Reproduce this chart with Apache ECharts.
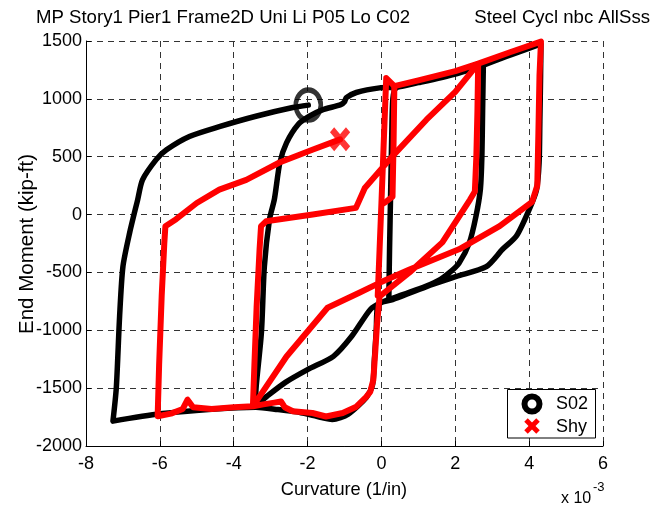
<!DOCTYPE html>
<html>
<head>
<meta charset="utf-8">
<script src="https://cdn.jsdelivr.net/npm/echarts@6/dist/echarts.min.js"></script>
<style>
  html, body { margin: 0; padding: 0; background: #fff; }
  #chart { width: 660px; height: 510px; }
</style>
</head>
<body>
<div id="chart"></div>
<script>
// Curvature in units of 1e-3 (1/in), end moment in kip-ft.
const xTicks = [-8, -6, -4, -2, 0, 2, 4, 6];
const yTicks = [-2000, -1500, -1000, -500, 0, 500, 1000, 1500];

// S02 material response (black)
const s02Path = [
  [0.2, -740], [0.22, -300], [0.25, 200], [0.28, 700], [0.31, 1000], [0.4, 1095], [1.0, 1140], [2.0, 1215], [2.76, 1290],
  [2.74, 900], [2.72, 500], [2.68, 220], [2.56, -15], [2.38, -245], [2.1, -420], [1.85, -500], [1.6, -560], [1.2, -620],
  [0.6, -690], [0.0, -760], [-0.3, -820], [-0.8, -1050], [-1.3, -1225], [-2.0, -1340], [-2.6, -1450], [-3.1, -1570], [-3.42, -1655],
  [-3.39, -1480], [-3.25, -1020], [-3.17, -450], [-3.03, -40], [-2.9, 130], [-2.75, 450], [-2.57, 620], [-2.25, 780], [-1.95, 850],
  [-1.6, 905], [-1.1, 950], [-1.0, 975], [-0.95, 1010], [-0.68, 1055], [-0.05, 1095], [0.4, 1100], [1.0, 1140], [2.0, 1215],
  [2.76, 1292], [3.5, 1380], [4.32, 1475],
  [4.31, 1200], [4.29, 800], [4.27, 450], [4.2, 216], [4.0, 43], [3.65, -188], [3.28, -300], [2.84, -450], [2.03, -535],
  [1.22, -622], [0.3, -735], [-0.1, -780], [-0.14, -1000], [-0.19, -1250], [-0.24, -1470], [-0.41, -1580], [-0.9, -1725],
  [-1.33, -1770], [-1.8, -1740], [-2.3, -1705], [-2.8, -1685], [-3.4, -1665], [-4.5, -1680], [-6.0, -1722], [-7.27, -1785],
  [-7.18, -1500], [-7.09, -880], [-7.0, -450], [-6.82, -160], [-6.6, 130], [-6.47, 300], [-6.1, 475], [-5.82, 560],
  [-5.2, 675], [-4.39, 760], [-3.4, 850], [-2.4, 925], [-1.98, 946]
];
const s02Marker = [[-1.98, 946]];

// Shy material response (red)
const shyPath = [
  [-0.1, -700], [-0.05, -300], [0.0, 100], [0.06, 600], [0.13, 1180], [0.35, 1110], [1.0, 1160], [2.0, 1240], [2.62, 1305],
  [2.6, 900], [2.57, 500], [2.53, 200], [2.4, 130], [1.65, -240], [0.76, -500], [-0.05, -708], [-0.12, -950], [-0.17, -1200],
  [-0.22, -1430], [-0.3, -1530], [-0.41, -1575], [-0.68, -1660], [-1.05, -1715], [-1.5, -1745], [-1.87, -1715], [-2.4, -1700],
  [-2.62, -1665], [-2.72, -1615], [-2.9, -1625], [-3.2, -1640], [-3.48, -1657],
  [-3.44, -1300], [-3.38, -800], [-3.3, -300], [-3.26, -100], [-3.12, -58], [-1.86, 0], [-0.69, 58], [-0.45, 230], [0.3, 505],
  [1.22, 820], [2.0, 1060], [2.62, 1305], [3.5, 1405], [4.32, 1495],
  [4.28, 1200], [4.25, 700], [4.22, 250], [4.08, 110], [3.2, -100], [2.1, -300], [0.76, -475], [-0.05, -590], [-0.6, -675],
  [-1.46, -805], [-2.57, -1227], [-3.48, -1657],
  [-4.0, -1665], [-4.6, -1680], [-5.1, -1665], [-5.25, -1600], [-5.38, -1680], [-5.7, -1720], [-6.06, -1743],
  [-6.02, -1300], [-5.95, -700], [-5.88, -250], [-5.85, -100], [-5.56, -40], [-5.0, 100], [-4.39, 215], [-3.66, 300],
  [-2.76, 450], [-1.87, 560], [-1.12, 650]
];
const shyNearZero = [[0.08, 100], [0.3, 155], [0.33, 640], [0.35, 1110]];
const shyMarker = [[-1.12, 650]];

const seriesNames = ['S02', 'Shy'];
const titleLeft = 'MP Story1 Pier1 Frame2D Uni Li P05 Lo C02';
const titleRight = 'Steel Cycl nbc AllSss';
const xLabel = 'Curvature (1/in)';
const yLabel = 'End Moment (kip-ft)';

const FONT = '"Liberation Sans", Arial, Helvetica, sans-serif';
const chart = echarts.init(document.getElementById('chart'), null, { renderer: 'canvas' });

const gridLine = { show: true, lineStyle: { type: [6, 5], color: '#333', width: 1 } };
const plainNumber = v => String(v);

chart.setOption({
  animation: false,
  backgroundColor: '#fff',
  grid: { left: 86, right: 57, top: 41, bottom: 64, containLabel: false },
  xAxis: {
    type: 'value', min: xTicks[0], max: xTicks[xTicks.length - 1], interval: 2,
    axisLine: { show: true, onZero: false, lineStyle: { color: '#000', width: 1 } },
    axisTick: { show: true, inside: true, length: 5, lineStyle: { color: '#000' } },
    axisLabel: { color: '#000', fontSize: 18, fontFamily: FONT, margin: 9, formatter: plainNumber, showMinLabel: true, showMaxLabel: true },
    splitLine: gridLine
  },
  yAxis: {
    type: 'value', min: yTicks[0], max: yTicks[yTicks.length - 1], interval: 500,
    axisLine: { show: true, onZero: false, lineStyle: { color: '#000', width: 1 } },
    axisTick: { show: true, inside: true, length: 5, lineStyle: { color: '#000' } },
    axisLabel: { color: '#000', fontSize: 18, fontFamily: FONT, margin: 4, formatter: plainNumber, showMinLabel: true, showMaxLabel: true },
    splitLine: gridLine
  },
  series: [
    {
      name: seriesNames[0], type: 'line', data: s02Path, showSymbol: false, z: 2, smooth: 0.25,
      lineStyle: { color: '#000', width: 5.5, cap: 'round', join: 'round' }
    },
    {
      name: seriesNames[1], type: 'line', data: shyNearZero, showSymbol: false, z: 3,
      lineStyle: { color: '#ff0000', width: 6, cap: 'round', join: 'round' }
    },
    {
      name: seriesNames[1], type: 'line', data: shyPath, showSymbol: false, z: 3,
      lineStyle: { color: '#ff0000', width: 6, cap: 'round', join: 'round' }
    },
    {
      name: seriesNames[0], type: 'scatter', data: s02Marker, z: 4,
      symbol: 'circle', symbolSize: [25, 30],
      itemStyle: { color: 'rgba(0,0,0,0)', borderColor: '#000', borderWidth: 5 }
    },
    {
      name: seriesNames[1], type: 'scatter', data: shyMarker, z: 4,
      symbol: 'path://M0,0L10,10M10,0L0,10', symbolSize: [16, 19], symbolKeepAspect: false,
      itemStyle: { color: 'none', borderColor: '#ff0000', borderWidth: 6.5 }
    }
  ],
  graphic: [
    { type: 'text', left: 36, top: 8, style: { text: titleLeft, font: '18.6px ' + FONT, fill: '#000' } },
    { type: 'text', right: 10, top: 8, style: { text: titleRight, font: '18.6px ' + FONT, fill: '#000' } },
    { type: 'text', x: 344, y: 490, style: { text: xLabel, font: '18.2px ' + FONT, fill: '#000', align: 'center', verticalAlign: 'middle' } },
    { type: 'text', x: 561, y: 499, style: { text: 'x 10', font: '16px ' + FONT, fill: '#000', align: 'left', verticalAlign: 'middle' } },
    { type: 'text', x: 593, y: 487, style: { text: '-3', font: '13px ' + FONT, fill: '#000', align: 'left', verticalAlign: 'middle' } },
    { type: 'text', x: 27, y: 244, rotation: Math.PI / 2, style: { text: yLabel, font: '20.5px ' + FONT, fill: '#000', align: 'center', verticalAlign: 'middle' } },
    // legend box
    { type: 'rect', shape: { x: 507.5, y: 389.5, width: 88, height: 48.5 }, style: { fill: '#fff', stroke: '#000', lineWidth: 1 }, z: 10 },
    { type: 'circle', shape: { cx: 532, cy: 404, r: 7.5 }, style: { fill: 'none', stroke: '#000', lineWidth: 6 }, z: 11 },
    { type: 'line', shape: { x1: 526, y1: 420, x2: 538, y2: 432 }, style: { stroke: '#ff0000', lineWidth: 5 }, z: 11 },
    { type: 'line', shape: { x1: 538, y1: 420, x2: 526, y2: 432 }, style: { stroke: '#ff0000', lineWidth: 5 }, z: 11 },
    { type: 'text', x: 556, y: 404, style: { text: seriesNames[0], font: '18px ' + FONT, fill: '#000', verticalAlign: 'middle' }, z: 11 },
    { type: 'text', x: 556, y: 427, style: { text: seriesNames[1], font: '18px ' + FONT, fill: '#000', verticalAlign: 'middle' }, z: 11 }
  ]
});
</script>
</body>
</html>
